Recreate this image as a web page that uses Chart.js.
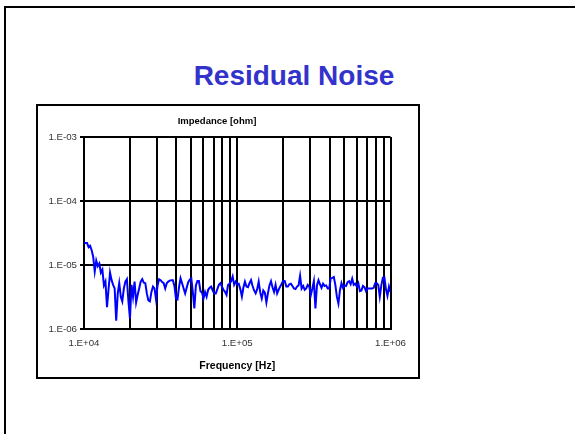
<!DOCTYPE html>
<html>
<head>
<meta charset="utf-8">
<script src="https://cdn.jsdelivr.net/npm/chart.js@4.4.1/dist/chart.umd.min.js"></script>
<style>
    html, body { margin: 0; padding: 0; background: #fff; }
    body { width: 575px; height: 434px; position: relative; overflow: hidden; font-family: 'Liberation Sans', Arial, sans-serif; }
    .slide-frame { position: absolute; left: 4px; top: 6px; width: 700px; height: 600px; border-left: 2px solid #000; border-top: 2px solid #000; }
    .slide-title { position: absolute; left: 94px; top: 62px; width: 400px; text-align: center; font-size: 28px; line-height: 28px; font-weight: bold; color: #3333cc; }
    .chart-box { position: absolute; left: 36px; top: 104px; width: 384px; height: 275px; box-sizing: border-box; border: 2px solid #000; }
    #noiseChart { position: absolute; left: 19px; top: 106px; }
</style>
</head>
<body>
<div class="slide-frame"></div>
<div class="slide-title">Residual Noise</div>
<div class="chart-box"></div>
<canvas id="noiseChart" width="396" height="270"></canvas>

<script>
// Sweep points: 100 per decade, mantissas of 10^(k/100)
const sweepMantissa = [
    1.000, 1.023, 1.047, 1.072, 1.096, 1.122, 1.148, 1.175, 1.202, 1.230,
    1.259, 1.288, 1.318, 1.349, 1.380, 1.413, 1.445, 1.479, 1.514, 1.549,
    1.585, 1.622, 1.660, 1.698, 1.738, 1.778, 1.820, 1.862, 1.905, 1.950,
    1.995, 2.042, 2.089, 2.138, 2.188, 2.239, 2.291, 2.344, 2.399, 2.455,
    2.512, 2.570, 2.630, 2.692, 2.754, 2.818, 2.884, 2.951, 3.020, 3.090,
    3.162, 3.236, 3.311, 3.388, 3.467, 3.548, 3.631, 3.715, 3.802, 3.890,
    3.981, 4.074, 4.169, 4.266, 4.365, 4.467, 4.571, 4.677, 4.786, 4.898,
    5.012, 5.129, 5.248, 5.370, 5.495, 5.623, 5.754, 5.888, 6.026, 6.166,
    6.310, 6.457, 6.607, 6.761, 6.918, 7.079, 7.244, 7.413, 7.586, 7.762,
    7.943, 8.128, 8.318, 8.511, 8.710, 8.913, 9.120, 9.333, 9.550, 9.772
];
const sweepDecades = [1e4, 1e5];
const sweepEnd = 1e6;

// Impedance readings in micro-ohm, one per sweep point
const impedanceMicroOhm = [
    22.5, 22, 22, 19, 20, 17, 13.5, 7.9, 11.7, 9.6,
    10.6, 7.6, 8.5, 4.8, 5.5, 2.2, 4.1, 7.6, 5.8, 4.9,
    4.3, 1.35, 3.6, 5.2, 3.2, 2.7, 4.3, 5.5, 6.0, 2.7,
    1.45, 4.9, 3.2, 5.5, 2.6, 3.4, 4.3, 5.5, 6.0, 5.3,
    5.2, 3.6, 2.8, 2.7, 3.8, 4.6, 4.3, 2.9, 4.8, 6.0,
    5.8, 5.4, 5.2, 4.3, 5.2, 5.5, 5.7, 5.8, 5.8, 4.7,
    3.0, 2.9, 4.5, 6.2, 5.2, 4.3, 3.6, 4.4, 5.4, 5.9,
    6.2, 3.8, 2.1, 4.8, 5.6, 5.6, 3.9, 3.7, 3.0, 3.8,
    3.2, 4.1, 4.4, 4.6, 4.0, 3.6, 3.6, 4.2, 4.9, 5.2,
    4.6, 4.1, 3.8, 3.4, 4.9, 5.1, 5.6, 6.6, 4.9, 5.5,
    5.0, 5.1, 4.2, 3.2, 4.4, 5.5, 4.6, 4.5, 5.2, 5.8,
    4.7, 4.0, 3.6, 4.2, 5.5, 3.7, 3.0, 4.0, 3.7, 2.6,
    3.6, 4.8, 5.6, 4.5, 3.8, 4.9, 3.6, 4.1, 4.6, 5.1,
    5.7, 5.6, 4.6, 4.6, 5.0, 5.1, 4.7, 4.3, 4.2, 4.6,
    4.8, 6.8, 4.3, 4.7, 4.1, 4.3, 4.9, 4.6, 3.4, 4.3,
    5.6, 2.1, 4.8, 5.8, 5.0, 4.4, 5.1, 4.7, 4.8, 4.3,
    4.3, 6.2, 6.3, 6.5, 4.9, 3.2, 2.5, 4.0, 5.2, 4.4,
    4.8, 4.7, 5.4, 5.6, 5.0, 6.1, 4.9, 5.1, 4.6, 5.2,
    3.9, 4.0, 4.7, 4.5, 3.9, 4.3, 4.3, 4.3, 4.3, 4.4,
    5.2, 5.2, 4.9, 3.2, 4.8, 6.3, 6.4, 4.2, 3.3, 4.6,
    3.8
];

// Axis ticks
const xGridValues = [
    1e4, 2e4, 3e4, 4e4, 5e4, 6e4, 7e4, 8e4, 9e4,
    1e5, 2e5, 3e5, 4e5, 5e5, 6e5, 7e5, 8e5, 9e5,
    1e6
];
const xLabelValues = [1e4, 1e5, 1e6];
const xTickLabels = ['1.E+04', '1.E+05', '1.E+06'];
const yTickValues = [1e-6, 1e-5, 1e-4, 1e-3];
const yTickLabels = ['1.E-06', '1.E-05', '1.E-04', '1.E-03'];

const FONT = "'Liberation Sans', Arial, sans-serif";

// build frequency list from the sweep table
const frequencies = [];
sweepDecades.forEach(d => sweepMantissa.forEach(m => frequencies.push(m * d)));
frequencies.push(sweepEnd);

const points = frequencies.map((f, i) => ({ x: f, y: impedanceMicroOhm[i] * 1e-6 }));

new Chart(document.getElementById('noiseChart'), {
    type: 'line',
    data: {
        datasets: [{
            label: 'Impedance',
            data: points,
            borderColor: '#0000ff',
            borderWidth: 2,
            pointRadius: 0,
            tension: 0,
            fill: false
        }]
    },
    options: {
        responsive: false,
        animation: false,
        layout: {
            padding: { left: 24, right: 24, top: 0, bottom: 0 }
        },
        plugins: {
            legend: { display: false },
            tooltip: { enabled: false },
            title: {
                display: true,
                text: 'Impedance [ohm]',
                color: '#000',
                font: { family: FONT, size: 9.5, weight: 'bold' },
                padding: { top: 9.3, bottom: 10.3 }
            }
        },
        scales: {
            x: {
                type: 'logarithmic',
                min: 1e4,
                max: 1e6,
                afterBuildTicks: scale => {
                    scale.ticks = xGridValues.map(v => ({ value: v }));
                },
                afterFit: scale => {
                    scale.height = 47;
                },
                ticks: {
                    autoSkip: false,
                    maxRotation: 0,
                    padding: 9,
                    color: '#333',
                    font: { family: FONT, size: 9.7 },
                    callback: value => {
                        const idx = xLabelValues.indexOf(value);
                        return idx >= 0 ? xTickLabels[idx] : '';
                    }
                },
                grid: {
                    color: '#000',
                    lineWidth: 2,
                    drawTicks: false
                },
                border: { display: true, color: '#000', width: 2 },
                title: {
                    display: true,
                    text: 'Frequency [Hz]',
                    color: '#000',
                    font: { family: FONT, size: 10.5, weight: 'bold' },
                    padding: { top: 0, bottom: 4 }
                }
            },
            y: {
                type: 'logarithmic',
                min: 1e-6,
                max: 1e-3,
                afterBuildTicks: scale => {
                    scale.ticks = yTickValues.map(v => ({ value: v }));
                },
                afterFit: scale => {
                    scale.width = 41;
                },
                ticks: {
                    autoSkip: false,
                    padding: 3,
                    color: '#333',
                    font: { family: FONT, size: 9.7 },
                    callback: value => {
                        const idx = yTickValues.indexOf(value);
                        return idx >= 0 ? yTickLabels[idx] : '';
                    }
                },
                grid: {
                    color: '#000',
                    lineWidth: 2,
                    drawTicks: true,
                    tickLength: 4,
                    tickColor: '#000'
                },
                border: { display: true, color: '#000', width: 2 }
            }
        }
    }
});
</script>
</body>
</html>
